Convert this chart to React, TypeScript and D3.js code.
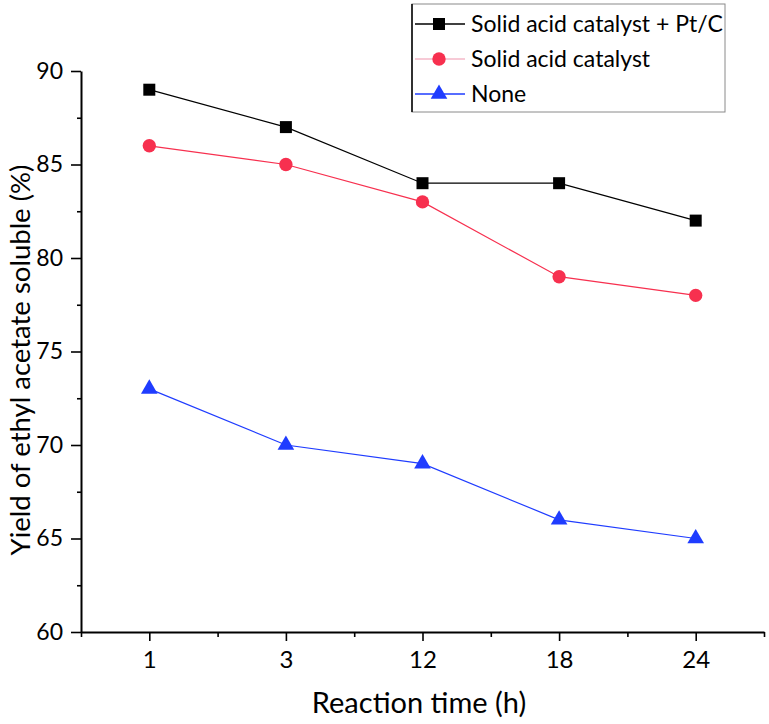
import { useEffect, useRef } from 'react';
import * as d3 from 'd3';

const categories = ['1', '3', '12', '18', '24'];
const seriesNames = ['Solid acid catalyst + Pt/C', 'Solid acid catalyst', 'None'];
const pdValues = [89, 87, 84, 84, 82];
const acidValues = [86, 85, 83, 79, 78];
const noneValues = [73, 70, 69, 66, 65];
const yTicks = [60, 65, 70, 75, 80, 85, 90];
const yMinorTicks = [62.5, 67.5, 72.5, 77.5, 82.5, 87.5];

const FONT = 'Lato, "Open Sans", sans-serif';

export default function App() {
  const svgRef = useRef<SVGSVGElement>(null);

  useEffect(() => {
    if (!svgRef.current) return;
    const svg = d3.select(svgRef.current);
    svg.selectAll('*').remove();

    const width = 769;
    const height = 724;
    svg.attr('width', width).attr('height', height);

    svg.append('rect').attr('width', width).attr('height', height).attr('fill', '#fff');

    // Scales
    const xScale = d3.scaleLinear().domain([-0.5, 4.5]).range([81, 764]);
    const yScale = d3.scaleLinear().domain([60, 90]).range([632, 71]);
    const xIdx = categories.map((_, i) => i);

    // Y axis
    const yAxis = svg
      .append('g')
      .attr('transform', `translate(${xScale(-0.5)},0)`)
      .call(
        d3
          .axisLeft(yScale)
          .tickValues(yTicks)
          .tickSize(10)
          .tickSizeOuter(0)
          .tickPadding(8)
          .tickFormat((d) => `${d}`)
      );
    yAxis.select('.domain').attr('stroke', '#000').attr('stroke-width', 2);
    yAxis.selectAll('.tick line').attr('stroke', '#000').attr('stroke-width', 1.6);
    yAxis
      .selectAll('.tick text')
      .attr('font-family', FONT)
      .attr('font-size', 23)
      .attr('fill', '#000');

    svg
      .append('g')
      .attr('transform', `translate(${xScale(-0.5)},0)`)
      .call(
        d3
          .axisLeft(yScale)
          .tickValues(yMinorTicks)
          .tickSize(4)
          .tickFormat(() => '')
      )
      .call((g) => g.select('.domain').remove())
      .selectAll('.tick line')
      .attr('stroke', '#000')
      .attr('stroke-width', 1.6);

    // X axis
    const xAxis = svg
      .append('g')
      .attr('transform', `translate(0,${yScale(60)})`)
      .call(
        d3
          .axisBottom(xScale)
          .tickValues(xIdx)
          .tickSize(9)
          .tickSizeOuter(0)
          .tickPadding(10)
          .tickFormat((d) => categories[d as number])
      );
    xAxis.select('.domain').attr('stroke', '#000').attr('stroke-width', 2);
    xAxis.selectAll('.tick line').attr('stroke', '#000').attr('stroke-width', 1.6);
    xAxis
      .selectAll('.tick text')
      .attr('font-family', FONT)
      .attr('font-size', 24)
      .attr('fill', '#000');

    svg
      .append('g')
      .attr('transform', `translate(0,${yScale(60)})`)
      .call(
        d3
          .axisBottom(xScale)
          .tickValues([-0.5, 0.5, 1.5, 2.5, 3.5, 4.5])
          .tickSize(5)
          .tickFormat(() => '')
      )
      .call((g) => g.select('.domain').remove())
      .selectAll('.tick line')
      .attr('stroke', '#000')
      .attr('stroke-width', 1.6);

    // Axis titles
    svg
      .append('text')
      .attr('x', 419)
      .attr('y', 713)
      .attr('text-anchor', 'middle')
      .attr('font-family', FONT)
      .attr('font-size', 29)
      .attr('fill', '#000')
      .text('Reaction time (h)');

    svg
      .append('text')
      .attr('transform', `translate(30,360) rotate(-90)`)
      .attr('text-anchor', 'middle')
      .attr('font-family', FONT)
      .attr('font-size', 27.5)
      .attr('fill', '#000')
      .text('Yield of ethyl acetate soluble (%)');

    const series = [
      { name: seriesNames[0], values: pdValues, color: '#000000', legendLine: '#000000', marker: 'square' },
      { name: seriesNames[1], values: acidValues, color: '#f7304f', legendLine: '#f5b8c8', marker: 'circle' },
      { name: seriesNames[2], values: noneValues, color: '#1f3cff', legendLine: '#1f3cff', marker: 'triangle' }
    ];

    const symbolFor = (m: string) =>
      m === 'square'
        ? d3.symbol().type(d3.symbolSquare).size(144)
        : m === 'circle'
          ? d3.symbol().type(d3.symbolCircle).size(140)
          : d3.symbol().type(d3.symbolTriangle).size(120);

    const line = d3
      .line<number>()
      .x((_, i) => xScale(i))
      .y((d) => yScale(d));

    series.forEach((s) => {
      svg
        .append('path')
        .datum(s.values)
        .attr('fill', 'none')
        .attr('stroke', s.color)
        .attr('stroke-width', 1.2)
        .attr('d', line);

      svg
        .append('g')
        .selectAll('path')
        .data(s.values)
        .enter()
        .append('path')
        .attr('transform', (d, i) => `translate(${xScale(i)},${yScale(d)})`)
        .attr('d', symbolFor(s.marker)())
        .attr('fill', s.color);
    });

    // Legend
    const legend = svg.append('g').attr('transform', 'translate(412,4)');
    legend
      .append('rect')
      .attr('x', 0)
      .attr('y', 0)
      .attr('width', 313)
      .attr('height', 108)
      .attr('fill', '#fff')
      .attr('stroke', '#8a8a8a')
      .attr('stroke-width', 1);
    legend
      .append('line')
      .attr('x1', 0)
      .attr('x2', 0)
      .attr('y1', 0)
      .attr('y2', 108)
      .attr('stroke', '#000')
      .attr('stroke-width', 1.5);

    series.forEach((s, i) => {
      const row = legend.append('g').attr('transform', `translate(0,${20 + i * 35})`);
      row
        .append('line')
        .attr('x1', 3)
        .attr('x2', 53)
        .attr('y1', 0)
        .attr('y2', 0)
        .attr('stroke', s.legendLine)
        .attr('stroke-width', 1.4);
      row
        .append('path')
        .attr('transform', 'translate(27,0)')
        .attr('d', symbolFor(s.marker)())
        .attr('fill', s.color);
      row
        .append('text')
        .attr('x', 59)
        .attr('y', 8)
        .attr('font-family', FONT)
        .attr('font-size', 23)
        .attr('fill', '#000')
        .text(s.name);
    });
  }, []);

  return (
    <div style={{ position: 'absolute', left: 0, top: 0 }}>
      <svg ref={svgRef} style={{ display: 'block' }} />
    </div>
  );
}
